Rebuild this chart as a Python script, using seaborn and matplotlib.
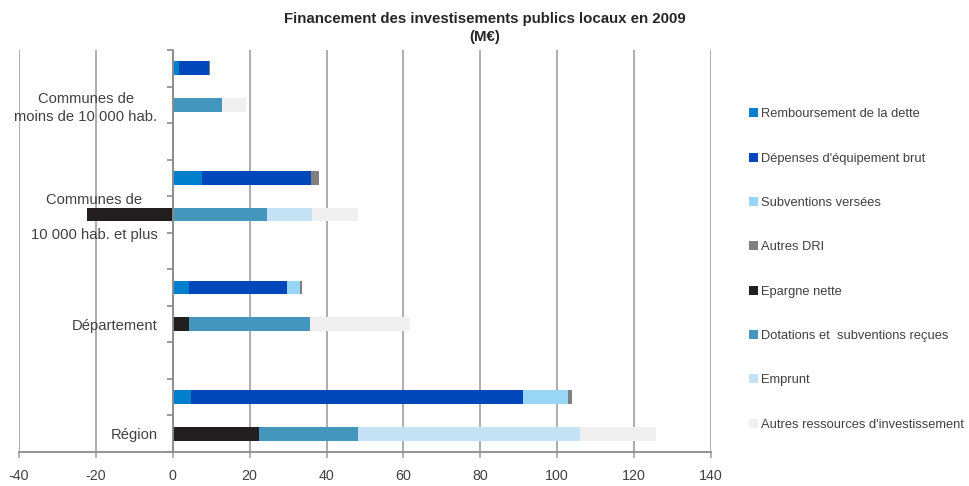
import numpy as np
import pandas as pd
import matplotlib
matplotlib.use("Agg")
import matplotlib.pyplot as plt
from matplotlib.patches import Patch
import seaborn as sns

# Chart rows, top to bottom: spending bar, resources bar, empty spacer
rows = ["c1_emplois", "c1_ressources", "gap1",
        "c2_emplois", "c2_ressources", "gap2",
        "dep_emplois", "dep_ressources", "gap3",
        "reg_emplois", "reg_ressources"]
row_labels = ["", "Communes de\nmoins de 10 000 hab.", "",
              "", "Communes de\n\n10 000 hab. et plus", "",
              "", "Département", "",
              "", "Région"]
data_rows = ["c1_emplois", "c1_ressources", "c2_emplois", "c2_ressources",
             "dep_emplois", "dep_ressources", "reg_emplois", "reg_ressources"]

series = ["Remboursement de la dette", "Dépenses d'équipement brut",
          "Subventions versées", "Autres DRI", "Epargne nette",
          "Dotations et  subventions reçues", "Emprunt",
          "Autres ressources d'investissement"]
colors = ["#0080cc", "#0047bb", "#99d5f5", "#808080", "#231f20",
          "#4397bd", "#c5e1f5", "#f0f0f0"]

# values (M€) for each series, in the order of data_rows
remboursement = [1.6, 0, 7.6, 0, 4.2, 0, 4.7, 0]
depenses = [7.7, 0, 28.4, 0, 25.5, 0, 86.4, 0]
subventions_versees = [0, 0, 0, 0, 3.4, 0, 11.7, 0]
autres_dri = [0.3, 0, 2.1, 0, 0.5, 0, 1.1, 0]
epargne = [0, 0, 0, -22.2, 0, 4.1, 0, 22.3]
dotations = [0, 12.8, 0, 24.4, 0, 31.6, 0, 25.8]
emprunt = [0, 0, 0, 11.9, 0, 0, 0, 57.8]
autres_ressources = [0, 6.3, 0, 12.0, 0, 25.9, 0, 19.8]

values = np.array([remboursement, depenses, subventions_versees, autres_dri,
                   epargne, dotations, emprunt, autres_ressources])

# stacked ends, positives and negatives stacked apart (like Excel)
pos_cum = np.cumsum(np.clip(values, 0, None), axis=0)
neg_cum = np.cumsum(np.clip(values, None, 0), axis=0)
ends = np.where(values >= 0, pos_cum, neg_cum)

df = pd.DataFrame({
    "row": np.tile(data_rows, len(series)),
    "serie": np.repeat(series, len(data_rows)),
    "end": ends.ravel(),
})

sns.set_theme(style="white")
plt.rcParams["font.family"] = ["Liberation Sans", "DejaVu Sans"]
plt.rcParams["axes.unicode_minus"] = False
text_color = "#404040"
grid_color = "#a6a6a6"

fig = plt.figure(figsize=(9.69, 4.86), dpi=100)
ax = fig.add_axes([19 / 969, 1 - 452 / 486, (711 - 19) / 969, (452 - 50) / 486])

# draw from the last series to the first so each covers the next one
for s, c in reversed(list(zip(series, colors))):
    sns.barplot(data=df[df["serie"] == s], x="end", y="row", order=rows,
                orient="h", color=c, saturation=1, width=0.38,
                errorbar=None, linewidth=0, ax=ax)

ax.set_xlim(-40, 140)
ax.set_ylim(len(rows) - 0.5, -0.5)
ax.set_xticks(np.arange(-40, 141, 20))
ax.set_xlabel("")
ax.set_ylabel("")
ax.grid(axis="x", color=grid_color, linewidth=1.3)
ax.set_axisbelow(True)

# category axis crossing at 0, ticks on row boundaries
ax.spines["left"].set_position(("data", 0))
for sp in ["top", "right"]:
    ax.spines[sp].set_visible(False)
for sp in ["left", "bottom"]:
    ax.spines[sp].set_color("#8c8c8c")
    ax.spines[sp].set_linewidth(1.3)
ax.set_yticks(np.arange(len(rows)))
ax.set_yticklabels(row_labels, fontsize=10.6, color=text_color,
                   multialignment="center", linespacing=1.3)
ax.set_yticks(np.arange(len(rows) + 1) - 0.5, minor=True)
ax.tick_params(axis="y", which="major", left=True, length=0, pad=11)
ax.tick_params(axis="y", which="minor", left=True, length=4, width=1.2,
               color="#8c8c8c", direction="out")
ax.tick_params(axis="x", bottom=True, length=4, width=1.2, color=grid_color,
               direction="out", labelsize=10.3, labelcolor=text_color, pad=8)

fig.text(0.5, 1 - 28 / 486,
         "Financement des investisements publics locaux en 2009\n(M€)",
         ha="center", va="center", fontsize=10.8, fontweight="bold",
         color="#262626", linespacing=1.35)

handles = [Patch(facecolor=c, edgecolor="none") for c in colors]
fig.legend(handles, series, loc="center left",
           bbox_to_anchor=(749 / 969, 1 - 269.5 / 486), frameon=False,
           fontsize=9.3, labelcolor=text_color, handlelength=0.7,
           handleheight=0.7, handletextpad=0.25, labelspacing=2.5,
           borderpad=0, borderaxespad=0)

fig.savefig("out.png", dpi=100)
